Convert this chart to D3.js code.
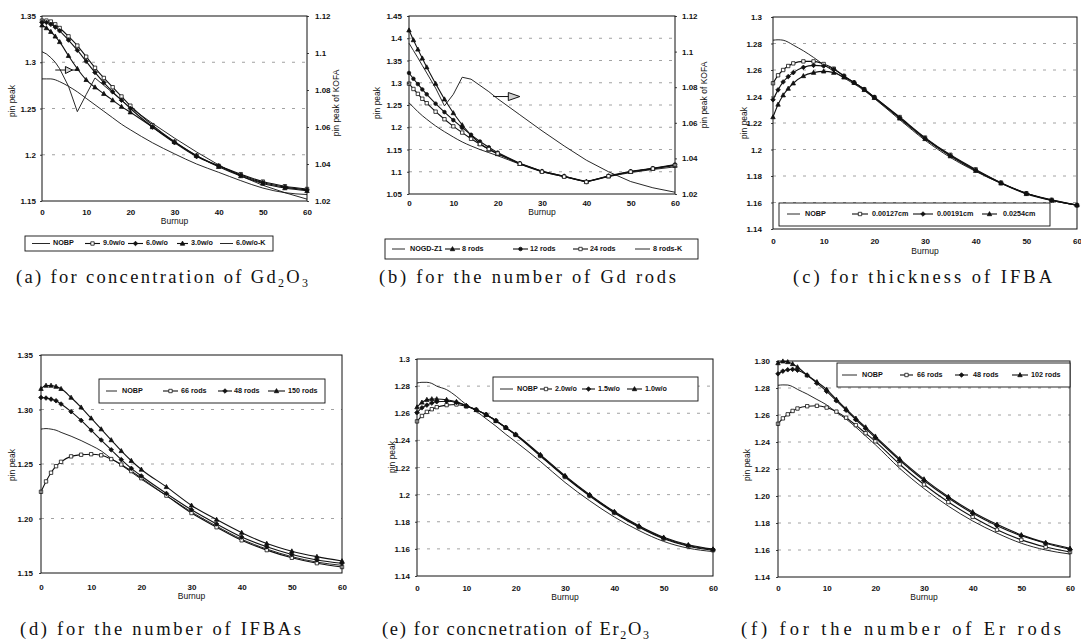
<!DOCTYPE html>
<html><head><meta charset="utf-8">
<script src="https://cdn.jsdelivr.net/npm/d3@7"></script>
<style>body{margin:0;background:#fff}svg{display:block}</style>
</head><body>
<svg id="chart" width="1081" height="642"></svg>
<script>
// ---------------- DATA ----------------
const burnup = [0,1,2,3,4,6,8,10,12,14,16,18,20,25,30,35,40,45,50,55,60];
const xTickValues = [0,10,20,30,40,50,60];

// (a) concentration of Gd2O3
const aNames = ["NOBP","9.0w/o","6.0w/o","3.0w/o","6.0w/o-K"];
const aNOBP = [1.282,1.282,1.282,1.281,1.279,1.274,1.268,1.261,1.254,1.247,1.240,1.233,1.227,1.213,1.201,1.190,1.181,1.172,1.164,1.159,1.157];
const a90 = [1.345,1.345,1.344,1.341,1.337,1.328,1.318,1.306,1.294,1.283,1.273,1.263,1.253,1.232,1.214,1.199,1.188,1.179,1.171,1.166,1.163];
const a60 = [1.343,1.343,1.341,1.338,1.334,1.324,1.313,1.301,1.289,1.278,1.268,1.259,1.250,1.230,1.213,1.198,1.188,1.178,1.170,1.165,1.162];
const a30 = [1.340,1.337,1.333,1.328,1.322,1.307,1.293,1.281,1.273,1.266,1.259,1.252,1.246,1.230,1.214,1.199,1.187,1.177,1.169,1.164,1.161];
const a60K = [1.1007,1.0995,1.0975,1.095,1.0915,1.082,1.0683,1.0775,1.0865,1.0825,1.0785,1.0745,1.0705,1.062,1.054,1.0465,1.0395,1.0335,1.0285,1.0245,1.021];
const aYTicks = [1.15,1.2,1.25,1.3,1.35];
const aYLabels = ["1.15","1.2","1.25","1.3","1.35"];
const kofaTicks = [1.02,1.04,1.06,1.08,1.1,1.12];
const kofaLabels = ["1.02","1.04","1.06","1.08","1.1","1.12"];

// (b) number of Gd rods
const bNames = ["NOGD-Z1","8 rods","12 rods","24 rods","8 rods-K"];
const bNOGD = [1.255,1.245,1.235,1.226,1.218,1.203,1.190,1.178,1.167,1.158,1.150,1.143,1.136,1.117,1.100,1.089,1.079,1.089,1.098,1.105,1.111];
const b8 = [1.418,1.396,1.375,1.355,1.335,1.298,1.263,1.232,1.205,1.182,1.163,1.150,1.140,1.118,1.101,1.090,1.078,1.090,1.100,1.107,1.114];
const b12 = [1.322,1.309,1.297,1.285,1.274,1.253,1.234,1.216,1.199,1.183,1.168,1.155,1.143,1.119,1.101,1.090,1.077,1.091,1.101,1.108,1.116];
const b24 = [1.298,1.286,1.275,1.264,1.254,1.235,1.218,1.202,1.188,1.174,1.162,1.151,1.141,1.118,1.100,1.089,1.077,1.090,1.100,1.107,1.115];
const b8K = [1.1047,1.1006,1.0965,1.0922,1.088,1.0795,1.0695,1.076,1.0856,1.0845,1.081,1.0775,1.0735,1.0645,1.0555,1.047,1.039,1.0325,1.027,1.0235,1.021];
const bYTicks = [1.05,1.1,1.15,1.2,1.25,1.3,1.35,1.4,1.45];
const bYLabels = ["1.05","1.1","1.15","1.2","1.25","1.3","1.35","1.4","1.45"];

// (c) thickness of IFBA
const cNames = ["NOBP","0.00127cm","0.00191cm","0.0254cm"];
const cNOBP = [1.2825,1.2828,1.2825,1.281,1.2788,1.2745,1.2695,1.264,1.259,1.254,1.2495,1.2445,1.2385,1.2225,1.207,1.194,1.1835,1.1745,1.167,1.1615,1.158];
const cT1 = [1.250,1.256,1.260,1.263,1.265,1.2665,1.2665,1.2645,1.261,1.2555,1.2505,1.2455,1.2395,1.2245,1.209,1.196,1.185,1.175,1.167,1.162,1.158];
const cT2 = [1.2375,1.245,1.251,1.255,1.258,1.262,1.2635,1.263,1.2605,1.2555,1.2505,1.2455,1.2395,1.224,1.2085,1.1955,1.1845,1.1748,1.1668,1.1618,1.158];
const cT3 = [1.2245,1.234,1.241,1.246,1.250,1.2555,1.258,1.259,1.258,1.2545,1.2505,1.245,1.239,1.2235,1.208,1.195,1.184,1.1745,1.1665,1.1615,1.158];
const cYTicks = [1.14,1.16,1.18,1.2,1.22,1.24,1.26,1.28,1.3];
const cYLabels = ["1.14","1.16","1.18","1.2","1.22","1.24","1.26","1.28","1.3"];

// (d) number of IFBAs
const dNames = ["NOBP","66 rods","48 rods","150 rods"];
const dNOBP = [1.282,1.2825,1.282,1.281,1.279,1.2755,1.2715,1.267,1.262,1.255,1.249,1.2425,1.236,1.221,1.206,1.193,1.181,1.172,1.165,1.160,1.157];
const d66 = [1.2245,1.234,1.242,1.248,1.252,1.257,1.2585,1.259,1.258,1.2545,1.2495,1.2435,1.237,1.221,1.205,1.192,1.180,1.171,1.164,1.159,1.1555];
const d48 = [1.311,1.3105,1.3095,1.308,1.305,1.298,1.290,1.281,1.272,1.263,1.254,1.246,1.239,1.223,1.208,1.195,1.183,1.174,1.167,1.162,1.159];
const d150 = [1.319,1.322,1.322,1.321,1.319,1.311,1.302,1.292,1.282,1.272,1.262,1.253,1.245,1.229,1.212,1.199,1.187,1.177,1.170,1.165,1.161];
const dYTicks = [1.15,1.2,1.25,1.3,1.35];
const dYLabels = ["1.15","1.20","1.25","1.30","1.35"];

// (e) concentration of Er2O3
const eNames = ["NOBP","2.0w/o","1.5w/o","1.0w/o"];
const eNOBP = [1.2823,1.2828,1.2828,1.282,1.280,1.2774,1.2724,1.2663,1.2615,1.256,1.2505,1.2445,1.239,1.2245,1.209,1.1955,1.1835,1.1735,1.1655,1.1605,1.158];
const e20 = [1.254,1.258,1.261,1.263,1.2645,1.266,1.2665,1.265,1.2625,1.2588,1.2543,1.2493,1.244,1.2285,1.213,1.199,1.1865,1.176,1.1675,1.162,1.159];
const e15 = [1.2605,1.264,1.266,1.2675,1.2685,1.2688,1.268,1.2655,1.2625,1.259,1.2545,1.2495,1.2442,1.229,1.2135,1.1995,1.187,1.1765,1.168,1.1625,1.1595];
const e10 = [1.2645,1.268,1.270,1.2705,1.2705,1.270,1.2685,1.2655,1.2625,1.259,1.2545,1.2495,1.2445,1.2295,1.214,1.200,1.1875,1.177,1.1685,1.163,1.1598];
const eYTicks = cYTicks;
const eYLabels = cYLabels;

// (f) number of Er rods
const fNames = ["NOBP","66 rods","48 rods","102 rods"];
const fNOBP = [1.282,1.2823,1.2822,1.281,1.279,1.2755,1.2715,1.2675,1.262,1.257,1.251,1.2445,1.238,1.2205,1.2055,1.1925,1.1815,1.1725,1.165,1.160,1.157];
const f66 = [1.2535,1.2575,1.2605,1.263,1.2648,1.2665,1.2668,1.2655,1.2625,1.258,1.2525,1.2465,1.2405,1.2235,1.2085,1.1955,1.1845,1.175,1.1675,1.1622,1.1585];
const f48 = [1.2905,1.2925,1.2935,1.2938,1.2932,1.2895,1.2835,1.2775,1.2705,1.2635,1.2565,1.250,1.2432,1.2265,1.2115,1.1985,1.1872,1.178,1.1705,1.165,1.1605];
const f102 = [1.2985,1.2998,1.2993,1.2978,1.2955,1.2895,1.2845,1.279,1.2715,1.2645,1.2575,1.251,1.2442,1.2275,1.2125,1.1995,1.1882,1.179,1.1712,1.1655,1.1612];
const fYTicks = cYTicks;
const fYLabels = ["1.14","1.16","1.18","1.20","1.22","1.24","1.26","1.28","1.30"];

// ---------------- DRAWING ----------------
const svg = d3.select("#chart");
const SANS = "'Liberation Sans', Arial, sans-serif";
const SERIF = "'Liberation Serif', 'Times New Roman', serif";
const INK = "#111";

function markerPath(type) {
  const s = 1.7;
  if (type === "square") return `M${-s},${-s}H${s}V${s}H${-s}Z`;
  if (type === "diamond") return `M0,${-s*1.35}L${s*1.35},0L0,${s*1.35}L${-s*1.35},0Z`;
  if (type === "triangle") return `M0,${-s*1.4}L${s*1.3},${s}L${-s*1.3},${s}Z`;
  return d3.symbol(d3.symbolCircle, 10)();
}
function drawMarker(g, type, cx, cy) {
  g.append("path").attr("d", markerPath(type))
    .attr("transform", `translate(${cx},${cy})`)
    .attr("fill", type === "square" ? "#fff" : INK)
    .attr("stroke", INK).attr("stroke-width", 0.8);
}

function styleAxis(sel) {
  sel.select(".domain").remove();
  sel.selectAll("line").attr("stroke", INK).attr("stroke-width", 0.8);
  sel.selectAll("text").attr("font-family", SANS).attr("font-size", 8)
    .attr("font-weight", "bold").attr("fill", INK);
}

function drawPanel(P) {
  const g = svg.append("g");
  const x = d3.scaleLinear().domain([0, 60]).range([P.l, P.r]);
  const y = d3.scaleLinear().domain(P.yDomain).range([P.b, P.t]);
  const y2 = P.y2Domain ? d3.scaleLinear().domain(P.y2Domain).range([P.b, P.t]) : null;

  g.append("g").selectAll("line").data(P.yTicks.slice(1, -1)).join("line")
    .attr("x1", P.l).attr("x2", P.r).attr("y1", d => y(d)).attr("y2", d => y(d))
    .attr("stroke", "#8a8a8a").attr("stroke-width", 0.8).attr("stroke-dasharray", "3,7");

  P.series.forEach(s => {
    const ys = s.right ? y2 : y;
    const line = d3.line().x((d, i) => x(burnup[i])).y(d => ys(d))
      .curve(s.linear ? d3.curveLinear : d3.curveMonotoneX);
    g.append("path").datum(s.values).attr("d", line).attr("fill", "none")
      .attr("stroke", INK).attr("stroke-width", s.marker ? 1.1 : 0.9);
    if (s.marker) s.values.forEach((v, i) => drawMarker(g, s.marker, x(burnup[i]), ys(v)));
  });

  g.append("rect").attr("x", P.l).attr("y", P.t).attr("width", P.r - P.l).attr("height", P.b - P.t)
    .attr("fill", "none").attr("stroke", INK).attr("stroke-width", 1);

  if (P.arrow) {
    const A = P.arrow;
    const ay = y(A.y);
    g.append("line").attr("x1", x(A.x0)).attr("x2", x(A.x1)).attr("y1", ay).attr("y2", ay)
      .attr("stroke", INK).attr("stroke-width", 1);
    const hx0 = x(A.h0), hx1 = x(A.h1);
    g.append("path").attr("d", `M${hx0},${ay - A.hh}L${hx1},${ay}L${hx0},${ay + A.hh}Z`)
      .attr("fill", "#d0d0d0").attr("stroke", INK).attr("stroke-width", 1);
  }

  const gl = g.append("g").attr("transform", `translate(${P.l},0)`)
    .call(d3.axisLeft(y).tickValues(P.yTicks).tickFormat((d, i) => P.yLabels[i]).tickSize(2).tickPadding(P.yPad));
  styleAxis(gl);
  if (y2) {
    const gr = g.append("g").attr("transform", `translate(${P.r},0)`)
      .call(d3.axisRight(y2).tickValues(kofaTicks).tickFormat((d, i) => kofaLabels[i]).tickSize(2).tickPadding(P.y2Pad));
    styleAxis(gr);
    g.append("text").attr("transform", `translate(${P.y2TitleX},${P.y2TitleY}) rotate(-90)`)
      .attr("text-anchor", "middle").attr("dominant-baseline", "middle")
      .attr("font-family", SANS).attr("font-size", 8.5).attr("fill", INK).text("pin peak of KOFA");
  }
  const gb = g.append("g").attr("transform", `translate(0,${P.b})`)
    .call(d3.axisBottom(x).tickValues(xTickValues).tickFormat(d3.format("d")).tickSize(0).tickPadding(P.xPad));
  styleAxis(gb);

  g.append("text").attr("x", (P.l + P.r) / 2).attr("y", P.xTitleY)
    .attr("text-anchor", "middle").attr("dominant-baseline", "middle")
    .attr("font-family", SANS).attr("font-size", 8.5).attr("fill", INK).text("Burnup");
  g.append("text").attr("transform", `translate(${P.yTitleX},${P.yTitleY}) rotate(-90)`)
    .attr("text-anchor", "middle").attr("dominant-baseline", "middle")
    .attr("font-family", SANS).attr("font-size", 8.5).attr("fill", INK).text("pin peak");

  const L = P.legend;
  g.append("rect").attr("x", L.box[0]).attr("y", L.box[1]).attr("width", L.box[2] - L.box[0])
    .attr("height", L.box[3] - L.box[1]).attr("fill", "#fff").attr("stroke", INK).attr("stroke-width", 0.9);
  P.series.forEach((s, i) => {
    const it = L.items[i];
    g.append("line").attr("x1", it[0]).attr("x2", it[1]).attr("y1", L.ty).attr("y2", L.ty)
      .attr("stroke", INK).attr("stroke-width", s.marker ? 1.1 : 0.9);
    if (s.marker) drawMarker(g, s.marker, (it[0] + it[1]) / 2, L.ty);
    g.append("text").attr("x", it[2]).attr("y", L.ty).attr("dominant-baseline", "middle")
      .attr("font-family", SANS).attr("font-size", 7.2).attr("font-weight", "bold")
      .attr("fill", INK).text(s.name);
  });

  const C = P.caption;
  const t = svg.append("text").attr("x", C.x0).attr("y", C.y)
    .attr("font-family", SERIF).attr("font-size", 18.5).attr("fill", INK)
    .attr("textLength", C.x1 - C.x0).attr("lengthAdjust", "spacing");
  C.parts.forEach(p => {
    const ts = t.append("tspan").text(p.t);
    if (p.sub) ts.attr("font-size", 12).attr("dy", 4);
    if (p.up) ts.attr("dy", -4);
  });
}

drawPanel({
  l: 42, t: 16, r: 307, b: 201, yDomain: [1.15, 1.35], yTicks: aYTicks, yLabels: aYLabels, yPad: 4,
  y2Domain: [1.02, 1.12], y2Pad: 6, y2TitleX: 337, y2TitleY: 103,
  xPad: 8, xTitleY: 222, yTitleX: 13, yTitleY: 101,
  series: [
    {name: aNames[0], values: aNOBP},
    {name: aNames[1], values: a90, marker: "square"},
    {name: aNames[2], values: a60, marker: "diamond"},
    {name: aNames[3], values: a30, marker: "triangle"},
    {name: aNames[4], values: a60K, right: true, linear: true}
  ],
  arrow: {x0: 3, x1: 8.3, h0: 5.3, h1: 6.9, hh: 3.5, y: 1.2916},
  legend: {box: [25, 236, 273, 251], ty: 243.5,
    items: [[32, 50, 53], [85, 100, 103], [128, 143, 146], [177, 188, 191], [220, 233, 236]]},
  caption: {x0: 16, x1: 308, y: 283, parts: [{t: "(a) for concentration of Gd"}, {t: "2", sub: true}, {t: "O", up: true}, {t: "3", sub: true}]}
});

drawPanel({
  l: 409, t: 16, r: 675, b: 194, yDomain: [1.05, 1.45], yTicks: bYTicks, yLabels: bYLabels, yPad: 5,
  y2Domain: [1.02, 1.12], y2Pad: 5, y2TitleX: 705, y2TitleY: 95,
  xPad: 6, xTitleY: 213, yTitleX: 378, yTitleY: 103,
  series: [
    {name: bNames[0], values: bNOGD},
    {name: bNames[1], values: b8, marker: "triangle", linear: true},
    {name: bNames[2], values: b12, marker: "circle", linear: true},
    {name: bNames[3], values: b24, marker: "square", linear: true},
    {name: bNames[4], values: b8K, right: true, linear: true}
  ],
  arrow: {x0: 19, x1: 22.6, h0: 22.4, h1: 25, hh: 4, y: 1.269},
  legend: {box: [385, 239, 698, 259], ty: 249,
    items: [[392, 405, 410], [445, 460, 462], [513, 528, 530], [573, 588, 590], [635, 650, 653]]},
  caption: {x0: 379, x1: 676, y: 283, parts: [{t: "(b) for the number of Gd rods"}]}
});

drawPanel({
  l: 773, t: 17, r: 1077, b: 229, yDomain: [1.14, 1.3], yTicks: cYTicks, yLabels: cYLabels, yPad: 9,
  xPad: 9, xTitleY: 252, yTitleX: 745, yTitleY: 123,
  series: [
    {name: cNames[0], values: cNOBP},
    {name: cNames[1], values: cT1, marker: "square"},
    {name: cNames[2], values: cT2, marker: "diamond"},
    {name: cNames[3], values: cT3, marker: "triangle"}
  ],
  legend: {box: [779, 203, 1050, 226], ty: 214,
    items: [[787, 800, 805], [852, 868, 872], [913, 933, 937], [982, 997, 1003]]},
  caption: {x0: 793, x1: 1052, y: 283, parts: [{t: "(c) for thickness of IFBA"}]}
});

drawPanel({
  l: 41, t: 355, r: 342, b: 573, yDomain: [1.15, 1.35], yTicks: dYTicks, yLabels: dYLabels, yPad: 6,
  xPad: 11, xTitleY: 597, yTitleX: 13, yTitleY: 465,
  series: [
    {name: dNames[0], values: dNOBP},
    {name: dNames[1], values: d66, marker: "square"},
    {name: dNames[2], values: d48, marker: "diamond"},
    {name: dNames[3], values: d150, marker: "triangle"}
  ],
  legend: {box: [99, 379, 325, 403], ty: 391,
    items: [[106, 117, 122], [163, 178, 181], [218, 232, 234], [268, 285, 288]]},
  caption: {x0: 20, x1: 301, y: 635, parts: [{t: "(d) for the number of IFBAs"}]}
});

drawPanel({
  l: 417, t: 359, r: 713, b: 576, yDomain: [1.14, 1.3], yTicks: eYTicks, yLabels: eYLabels, yPad: 5,
  xPad: 9, xTitleY: 598, yTitleX: 393, yTitleY: 457,
  series: [
    {name: eNames[0], values: eNOBP},
    {name: eNames[1], values: e20, marker: "square"},
    {name: eNames[2], values: e15, marker: "diamond"},
    {name: eNames[3], values: e10, marker: "triangle"}
  ],
  legend: {box: [493, 377, 698, 401], ty: 389,
    items: [[500, 513, 517], [540, 552, 555], [582, 595, 598], [627, 642, 645]]},
  caption: {x0: 382, x1: 649, y: 635, parts: [{t: "(e) for concnetration of Er"}, {t: "2", sub: true}, {t: "O", up: true}, {t: "3", sub: true}]}
});

drawPanel({
  l: 778, t: 361, r: 1070, b: 577, yDomain: [1.14, 1.3], yTicks: fYTicks, yLabels: fYLabels, yPad: 6,
  xPad: 8, xTitleY: 598, yTitleX: 748, yTitleY: 465,
  series: [
    {name: fNames[0], values: fNOBP},
    {name: fNames[1], values: f66, marker: "square"},
    {name: fNames[2], values: f48, marker: "diamond"},
    {name: fNames[3], values: f102, marker: "triangle"}
  ],
  legend: {box: [837, 363, 1070, 387], ty: 375,
    items: [[842, 857, 862], [900, 913, 917], [955, 968, 973], [1012, 1028, 1031]]},
  caption: {x0: 741, x1: 1061, y: 635, parts: [{t: "(f) for the number of Er rods"}]}
});
</script>
</body></html>
